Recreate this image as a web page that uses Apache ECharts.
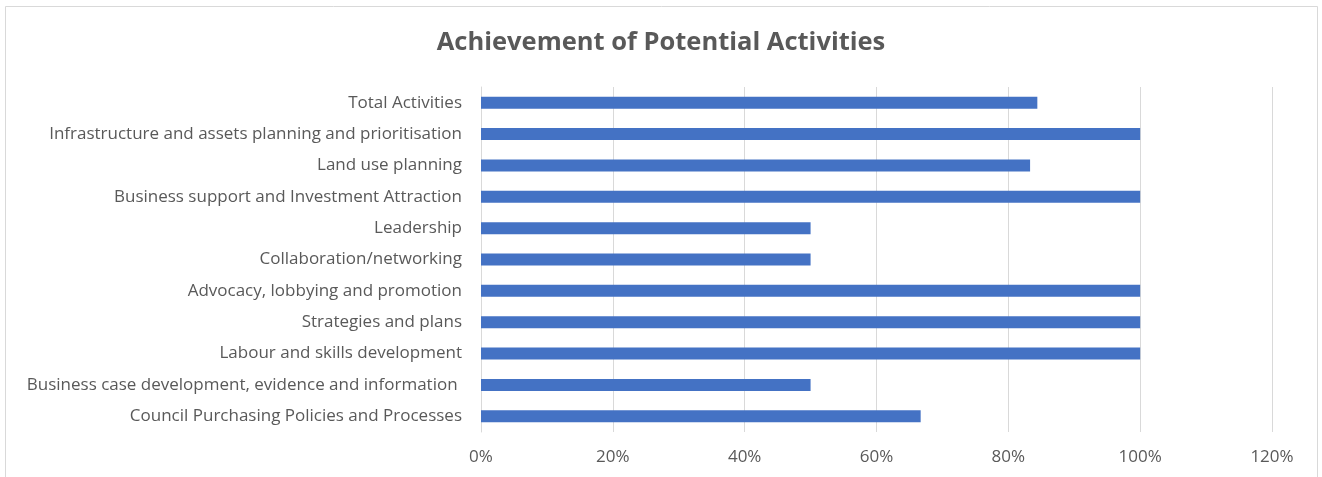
<!DOCTYPE html>
<html>
<head>
<meta charset="utf-8">
<script src="https://cdn.jsdelivr.net/npm/echarts@6/dist/echarts.min.js"></script>
<style>
html,body{margin:0;padding:0;background:#fff;}
#chart{width:1322px;height:477px;}
</style>
</head>
<body>
<div id="chart"></div>
<script>
const categories = [
  "Total Activities",
  "Infrastructure and assets planning and prioritisation",
  "Land use planning",
  "Business support and Investment Attraction",
  "Leadership",
  "Collaboration/networking",
  "Advocacy, lobbying and promotion",
  "Strategies and plans",
  "Labour and skills development",
  "Business case development, evidence and information ",
  "Council Purchasing Policies and Processes"
];
const values = [84.4, 100, 83.3, 100, 50, 50, 100, 100, 100, 50, 66.7];
const xTicks = [0, 20, 40, 60, 80, 100, 120];

const chart = echarts.init(document.getElementById('chart'));
chart.setOption({
  animation: false,
  backgroundColor: '#fff',
  title: {
    text: 'Achievement of Potential Activities',
    left: 'center',
    top: 25,
    textStyle: {fontFamily: 'Open Sans', fontSize: 25.5, fontWeight: 'bold', color: '#595959'}
  },
  graphic: [{
    type: 'rect',
    shape: {x: 5.5, y: 6.5, width: 1312, height: 500},
    style: {fill: 'none', stroke: '#d9d9d9', lineWidth: 1},
    silent: true
  }],
  grid: {left: 481, right: 50, top: 87, bottom: 45, containLabel: false},
  xAxis: {
    type: 'value',
    min: xTicks[0],
    max: xTicks[xTicks.length - 1],
    interval: 20,
    axisLine: {show: false},
    axisTick: {show: false},
    splitLine: {show: true, lineStyle: {color: '#d9d9d9', width: 1}},
    axisLabel: {
      formatter: v => v + '%',
      fontFamily: 'Open Sans', fontSize: 17, color: '#595959', margin: 17
    }
  },
  yAxis: {
    type: 'category',
    data: categories,
    inverse: true,
    axisLine: {show: true, lineStyle: {color: '#d9d9d9', width: 1}},
    axisTick: {show: false},
    axisLabel: {fontFamily: 'Open Sans', fontSize: 17, color: '#595959', margin: 19}
  },
  series: [{
    type: 'bar',
    data: values,
    barWidth: 12,
    itemStyle: {color: '#4472C4'}
  }]
});
</script>
</body>
</html>
